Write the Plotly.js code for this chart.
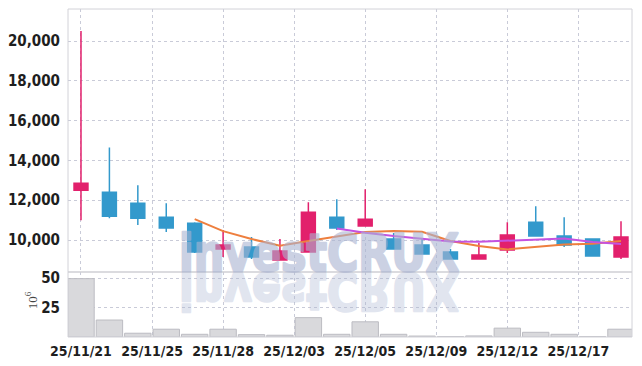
<!DOCTYPE html>
<html>
<head>
<meta charset="utf-8">
<script src="https://cdn.plot.ly/plotly-3.0.1.min.js"></script>
<style>
html,body{margin:0;padding:0;background:#fff;}
#wrap{position:relative;width:642px;height:366px;}
#wm{position:absolute;left:0;top:0;pointer-events:none;z-index:5;}
</style>
</head>
<body>
<div id="wrap">
<div id="chart" style="width:642px;height:366px;"></div>
<svg id="wm" width="642" height="366"></svg>
</div>
<script>
const dates = ["25/11/21","25/11/24","25/11/25","25/11/26","25/11/27","25/11/28","25/12/01","25/12/02","25/12/03","25/12/04",
               "25/12/05","25/12/08","25/12/09","25/12/10","25/12/11","25/12/12","25/12/15","25/12/16","25/12/17","25/12/18"];
const openP  = [12500,12400,11850,11150,10850, 9550, 9650, 9000, 9400,11150,10700,10050, 9750, 9400, 9050, 9500,10900,10200,10050, 9150];
const highP  = [20500,14650,12750,11850,10900,10500,10150,10050,11900,12050,12550,10350,10050, 9550, 9850,10900,11700,11150,10050,10950];
const lowP   = [11000,11100,10750,10400, 9350, 9150, 9050, 9000, 9400,10500,10700, 9550, 9300, 9050, 9050, 9350,10200, 9650, 9200, 9050];
const closeP = [12850,11200,11100,10600, 9400, 9750, 9150, 9450,11400,10600,11050, 9550, 9300, 9050, 9250,10250,10200, 9750, 9200,10150];
const volume = [49.5,14.4,3.2,6.6,2.3,6.6,2.0,1.5,16.4,2.3,12.9,2.3,0.8,0.3,0.9,7.5,4.0,2.3,0.3,6.6];
const ma5  = [null,null,null,null,11050,10450,10050,9720,9950,10180,10400,10460,10420,9950,9700,9530,9660,9780,9820,9950];
const ma10 = [null,null,null,null,null,null,null,null,null,10580,10370,10200,10070,9930,9910,9960,10040,10080,9900,9800];
const tickPos = [0,2.5,5,7.5,10,12.5,15,17.5];
const tickText = ["25/11/21","25/11/25","25/11/28","25/12/03","25/12/05","25/12/09","25/12/12","25/12/17"];
const priceTicks = [10000,12000,14000,16000,18000,20000];
const volTicks = [25,50];
const volUnit = '10<sup>6</sup>';
const watermark = 'investCRUX';

const idx = dates.map((d,i)=>i);
const FONT = '"Liberation Sans Narrow","DejaVu Sans Condensed","Liberation Sans",sans-serif';
const RED = '#e2206c', BLUE = '#3399cc';

const traces = [
  {type:'bar', x:idx, y:volume, xaxis:'x', yaxis:'y2', width:0.93,
   marker:{color:'#d9d9dc', line:{color:'#bcbcc2', width:1}}, hoverinfo:'none', showlegend:false},
  {type:'candlestick', x:idx, open:openP, high:highP, low:lowP, close:closeP, xaxis:'x', yaxis:'y',
   increasing:{line:{color:RED,width:1.5}, fillcolor:RED},
   decreasing:{line:{color:BLUE,width:1.5}, fillcolor:BLUE},
   whiskerwidth:0, hoverinfo:'none', showlegend:false},
  {type:'scatter', mode:'lines', x:idx, y:ma5, xaxis:'x', yaxis:'y',
   line:{color:'#ee7f3e', width:2}, hoverinfo:'none', showlegend:false},
  {type:'scatter', mode:'lines', x:idx, y:ma10, xaxis:'x', yaxis:'y',
   line:{color:'#c452e0', width:2}, hoverinfo:'none', showlegend:false}
];

const gridc = '#c9cbd8';
const tf = {family:FONT, size:15, color:'#1e1e1e', weight:'bold'};
const layout = {
  width:642, height:366,
  margin:{l:68, r:10, t:9, b:29},
  paper_bgcolor:'#fff', plot_bgcolor:'#fff',
  showlegend:false,
  xaxis:{anchor:'y2', range:[-0.457,19.387], tickmode:'array', tickvals:tickPos, ticktext:tickText,
         showgrid:true, gridcolor:gridc, griddash:'dot', gridwidth:1, zeroline:false,
         ticks:'outside', ticklen:1, tickcolor:'rgba(0,0,0,0)',
         tickfont:Object.assign({}, tf, {size:14}), rangeslider:{visible:false}, fixedrange:true},
  yaxis:{domain:[0.198,1], range:[8392,21608], tickmode:'array', tickvals:priceTicks, tickformat:',d',
         showgrid:true, gridcolor:gridc, griddash:'dot', zeroline:false,
         ticks:'outside', ticklen:4, tickcolor:'rgba(0,0,0,0)',
         tickfont:tf, fixedrange:true},
  yaxis2:{domain:[0,0.198], range:[0,55.1], tickmode:'array', tickvals:volTicks,
         showgrid:true, gridcolor:gridc, griddash:'dot', zeroline:false,
         ticks:'outside', ticklen:4, tickcolor:'rgba(0,0,0,0)',
         tickfont:tf, fixedrange:true},
  annotations:[
    {xref:'paper', yref:'paper', x:-0.065, y:0.113, text:volUnit, showarrow:false, textangle:-90,
     xanchor:'center', yanchor:'middle', font:{family:'"Liberation Serif","DejaVu Serif",serif', size:13, color:'#444'}}
  ],
  shapes:[
    {type:'rect', xref:'paper', yref:'paper', x0:0, x1:1, y0:0, y1:1, line:{color:'#d2d2d8', width:1}},
    {type:'line', xref:'paper', yref:'paper', x0:0, x1:1, y0:0.198, y1:0.198, line:{color:'#cfcfd5', width:1.5}}
  ]
};

Plotly.newPlot('chart', traces, layout, {displayModeBar:false, staticPlot:true}).then(()=>{
  const svg = document.getElementById('wm');
  const NS = 'http://www.w3.org/2000/svg';
  function mk(op, flip){
    const t = document.createElementNS(NS,'text');
    t.setAttribute('x','179'); t.setAttribute('y','271');
    t.setAttribute('textLength','280'); t.setAttribute('lengthAdjust','spacingAndGlyphs');
    t.setAttribute('style','font-family:"DejaVu Sans",sans-serif;font-weight:bold;font-size:52px;');
    t.setAttribute('fill','rgb(170,180,210)');
    t.setAttribute('stroke','rgb(170,180,210)'); t.setAttribute('stroke-width','2.5');
    t.setAttribute('stroke-linejoin','round');
    t.setAttribute('opacity', op);
    t.textContent = watermark;
    if(flip){ t.setAttribute('transform','translate(0,544) scale(1,-1)'); }
    svg.appendChild(t);
  }
  mk('0.6', false);
  mk('0.34', true);
});
</script>
</body>
</html>
